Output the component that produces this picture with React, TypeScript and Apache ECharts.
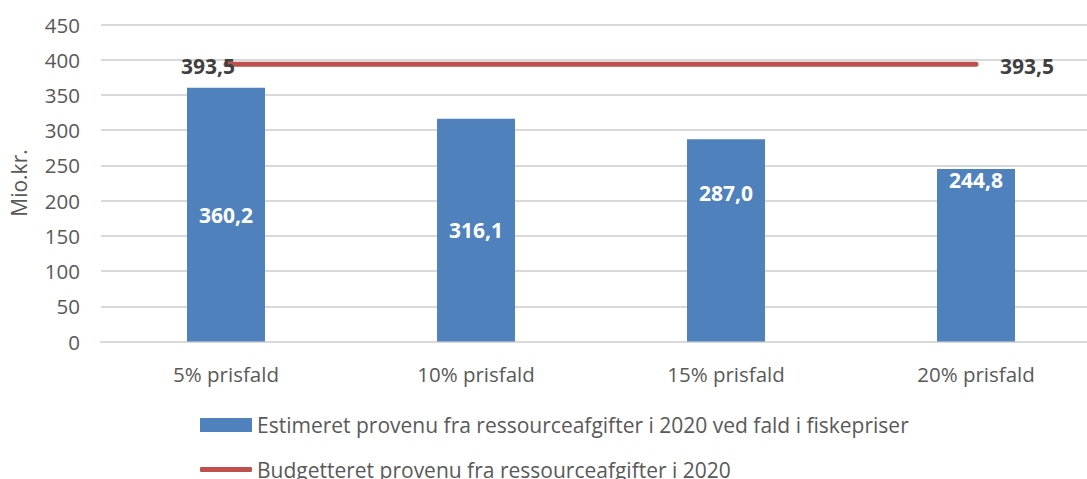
import React, { useEffect, useRef } from "react";
import * as echarts from "echarts";

const categories = ["5% prisfald", "10% prisfald", "15% prisfald", "20% prisfald"];
const estimated = [360.2, 316.1, 287.0, 244.8];
const budget = [393.5, 393.5, 393.5, 393.5];
const yTicks = [0, 50, 100, 150, 200, 250, 300, 350, 400, 450];
const seriesNames = [
  "Estimeret provenu fra ressourceafgifter i 2020 ved fald i fiskepriser",
  "Budgetteret provenu fra ressourceafgifter i 2020",
];

const fmt = (v: number) => v.toFixed(1).replace(".", ",");
const FONT = "Open Sans";

export default function App() {
  const ref = useRef<HTMLDivElement>(null);
  useEffect(() => {
    if (!ref.current) return;
    const chart = echarts.init(ref.current, null, { renderer: "svg" });
    const labelPos: any[] = ["inside", "inside", ["50%", 54], ["50%", 11]];
    chart.setOption({
      animation: false,
      textStyle: { fontFamily: FONT },
      grid: { left: 101, top: 24.5, width: 1000, height: 317, containLabel: false, outerBoundsMode: "none" },
      legend: [
        {
          orient: "vertical",
          left: 200,
          top: 414.5,
          padding: 0,
          itemWidth: 52,
          itemHeight: 14,
          icon: "rect",
          textStyle: { fontFamily: FONT, fontSize: 21, color: "#595959" },
          data: [seriesNames[0]],
        },
        {
          orient: "vertical",
          left: 200,
          top: 459,
          padding: 0,
          itemWidth: 52,
          itemHeight: 5,
          icon: "roundRect",
          textStyle: { fontFamily: FONT, fontSize: 21, color: "#595959" },
          data: [seriesNames[1]],
        },
      ],
      xAxis: {
        type: "category",
        data: categories,
        axisTick: { show: false },
        axisLine: { lineStyle: { color: "#d9d9d9", width: 2 } },
        axisLabel: { color: "#595959", fontSize: 20.5, margin: 22, fontFamily: FONT },
      },
      yAxis: {
        type: "value",
        min: yTicks[0],
        max: yTicks[yTicks.length - 1],
        interval: 50,
        name: "Mio.kr.",
        nameLocation: "middle",
        nameGap: 72,
        nameTextStyle: { color: "#595959", fontSize: 21, fontFamily: FONT },
        axisLine: { show: false },
        axisTick: { show: false },
        axisLabel: { color: "#595959", fontSize: 20.5, margin: 21, fontFamily: FONT },
        splitLine: { lineStyle: { color: "#d9d9d9", width: 2 } },
      },
      series: [
        {
          name: seriesNames[0],
          type: "bar",
          barWidth: 78,
          itemStyle: { color: "#4F81BD" },
          data: estimated.map((v, i) => ({
            value: v,
            label: {
              show: true,
              position: labelPos[i],
              align: "center",
              verticalAlign: "middle",
              formatter: () => fmt(v),
              color: "#ffffff",
              fontWeight: "bold",
              fontSize: 21,
              fontFamily: FONT,
            },
          })),
        },
        {
          name: seriesNames[1],
          type: "line",
          symbol: "circle",
          symbolSize: 0.01,
          lineStyle: { color: "#C0504D", width: 5, cap: "round" },
          itemStyle: { color: "#C0504D" },
          data: budget.map((v, i) => ({
            value: v,
            label: {
              show: i === 0 || i === budget.length - 1,
              position: i === 0 ? "left" : "right",
              distance: i === 0 ? -9 : 24,
              offset: [0, 2],
              formatter: () => fmt(v),
              color: "#404040",
              fontWeight: "bold",
              fontSize: 21,
              fontFamily: FONT,
            },
          })),
        },
      ],
    });
    return () => chart.dispose();
  }, []);
  return (
    <div style={{ position: "fixed", left: 0, top: 0, width: 1087, height: 479, overflow: "hidden", background: "#fff" }}>
      <div ref={ref} style={{ width: 1120, height: 500 }} />
    </div>
  );
}
